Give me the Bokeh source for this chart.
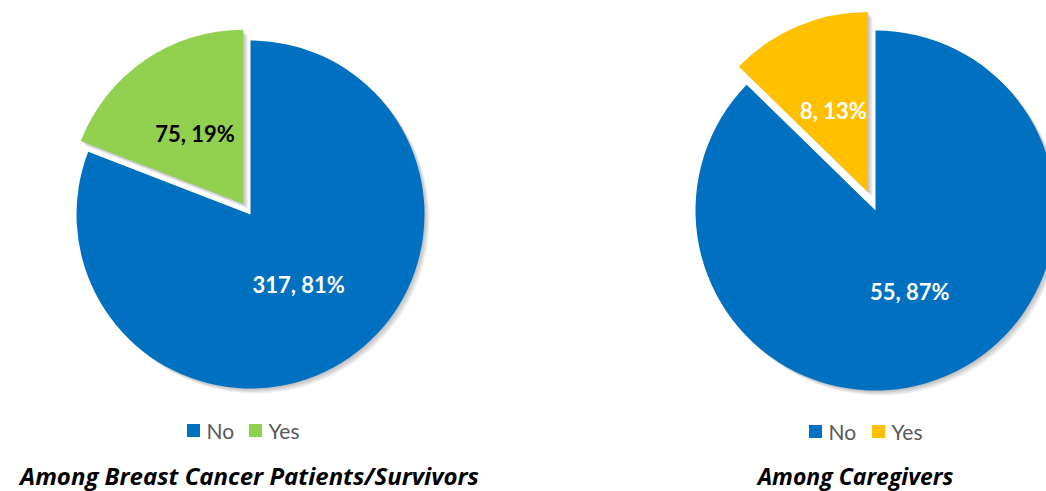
import numpy as np
from bokeh.plotting import figure
from bokeh.models import Range1d
from bokeh.core.properties import value
from bokeh.embed import file_html
from bokeh.resources import INLINE

categories = ["No", "Yes"]
patients_counts = [317, 75]
patients_pcts = [81, 19]
caregivers_counts = [55, 8]
caregivers_pcts = [87, 13]
patients_colors = ["#0070C0", "#92D050"]
caregivers_colors = ["#0070C0", "#FFC000"]
titles = ["Among Breast Cancer Patients/Survivors", "Among Caregivers"]

WIN_H = 491
W, H = 1046, 491
FONT = "Lato"
TITLE_FONT = "Open Sans"

p = figure(width=W, height=H, x_range=Range1d(0, W), y_range=Range1d(0, H),
           output_backend="svg", toolbar_location=None, min_border=0,
           x_axis_type=None, y_axis_type=None)
p.grid.visible = False
p.outline_line_color = None
p.background_fill_color = "white"


def Y(sy):
    return WIN_H - sy


pies = [
    dict(counts=patients_counts, pcts=patients_pcts, colors=patients_colors,
         cx=250, cy=214, r=174, explode=13, label_colors=["white", "black"],
         legend_x=[193, 255], legend_y=430, title=titles[0], title_x=249, title_size="24px"),
    dict(counts=caregivers_counts, pcts=caregivers_pcts, colors=caregivers_colors,
         cx=875, cy=210, r=180, explode=20, label_colors=["white", "white"],
         legend_x=[815, 878], legend_y=431, title=titles[1], title_x=855, title_size="23px"),
]

for pie in pies:
    counts = np.array(pie["counts"], dtype=float)
    frac = counts / counts.sum()
    ends = 90 - 360 * np.cumsum(frac)
    starts = np.concatenate([[90], ends[:-1]])
    bis = np.radians((starts + ends) / 2)
    expl = np.array([0, pie["explode"]])
    xs = pie["cx"] + expl * np.cos(bis)
    ys = Y(pie["cy"]) + expl * np.sin(bis)
    sa = np.radians(starts)
    ea = np.radians(ends)
    # shadows
    for k in range(5):
        p.wedge(x=list(xs + 1 + k), y=list(ys - 1 - k), radius=pie["r"], radius_units="screen",
                start_angle=list(sa), end_angle=list(ea), direction="clock",
                fill_color="black", fill_alpha=0.05, line_color=None)
    p.wedge(x=list(xs), y=list(ys), radius=pie["r"], radius_units="screen",
            start_angle=list(sa), end_angle=list(ea), direction="clock",
            fill_color=pie["colors"], line_color=None)
    # labels
    lx = xs + 0.49 * pie["r"] * np.cos(bis)
    ly = ys + 0.49 * pie["r"] * np.sin(bis)
    texts = [f"{c}, {q}%" for c, q in zip(pie["counts"], pie["pcts"])]
    p.text(x=list(lx), y=list(ly), text=texts, text_color=pie["label_colors"],
           text_font=value(FONT), text_font_style="bold", text_font_size="22px",
           text_align="center", text_baseline="middle")
    # legend
    p.scatter(x=pie["legend_x"], y=[Y(pie["legend_y"])] * 2, marker="square", size=13,
              fill_color=pie["colors"], line_color=None)
    p.text(x=[x + 13 for x in pie["legend_x"]], y=[Y(pie["legend_y"])] * 2, text=categories,
           text_color="#595959", text_font=value(FONT), text_font_size="21px",
           text_align="left", text_baseline="middle")
    # title
    p.text(x=[pie["title_x"]], y=[Y(475)], text=[pie["title"]], text_color="black",
           text_font=value(TITLE_FONT), text_font_style="bold italic", text_font_size=pie["title_size"],
           text_align="center", text_baseline="middle")

open("out.html", "w").write(file_html(p, INLINE))
